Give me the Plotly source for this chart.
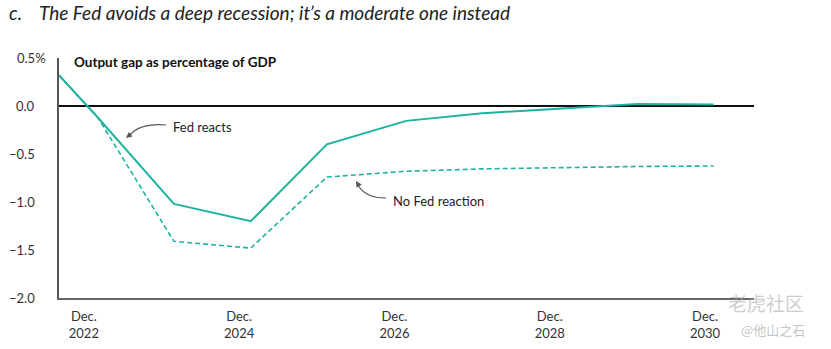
import plotly.graph_objects as go

# ---- data ----
x_years = [2022.6, 2023.1, 2024.08, 2025.07, 2026.05, 2027.07, 2028.05, 2029.05, 2030.05, 2031.03]
fed_reacts = [0.32, -0.12, -1.02, -1.20, -0.40, -0.155, -0.075, -0.025, 0.02, 0.015]
no_fed_reaction = [0.32, -0.12, -1.41, -1.48, -0.74, -0.68, -0.655, -0.64, -0.63, -0.625]

x_tickvals = [2022.92, 2024.92, 2026.92, 2028.92, 2030.92]
x_ticktext = ["Dec.<br>2022", "Dec.<br>2024", "Dec.<br>2026", "Dec.<br>2028", "Dec.<br>2030"]
y_tickvals = [0.5, 0.0, -0.5, -1.0, -1.5, -2.0]
y_ticktext = ["0.5%", "0.0", "−0.5", "−1.0", "−1.5", "−2.0"]

X_RANGE = [2022.6, 2031.55]
Y_RANGE = [-2.0, 0.5]
W, H = 831, 349
ML, MR, MT, MB = 59, 77, 58, 51

TEAL = "#1db39f"
FONT = "Lato"

def px2x(px):
    return X_RANGE[0] + (px - ML) / (W - ML - MR) * (X_RANGE[1] - X_RANGE[0])

def py2y(py):
    return Y_RANGE[1] - (py - MT) / (H - MT - MB) * (Y_RANGE[1] - Y_RANGE[0])

fig = go.Figure()
fig.add_trace(go.Scatter(x=x_years, y=no_fed_reaction, mode="lines",
                         line=dict(color=TEAL, width=1.6, dash="5px,3px"),
                         name="No Fed reaction"))
fig.add_trace(go.Scatter(x=x_years, y=fed_reacts, mode="lines",
                         line=dict(color=TEAL, width=2),
                         name="Fed reacts"))

annotations = []
# y tick labels
for v, t in zip(y_tickvals, y_ticktext):
    shift = -11 if t.endswith("%") else -22
    annotations.append(dict(x=0, xref="paper", y=v, yref="y", text=t, showarrow=False,
                            xanchor="right", yanchor="middle", xshift=shift,
                            font=dict(family=FONT, size=13, color="#333")))
# title
annotations.append(dict(x=0, xref="paper", y=1, yref="paper", text="<i>c.</i>", showarrow=False,
                        xanchor="left", yanchor="middle", xshift=-52, yshift=46,
                        font=dict(family=FONT, size=19, color="#222")))
annotations.append(dict(x=0, xref="paper", y=1, yref="paper",
                        text="<i>The Fed avoids a deep recession; it’s a moderate one instead</i>",
                        showarrow=False, xanchor="left", yanchor="middle", xshift=-22, yshift=46,
                        font=dict(family=FONT, size=19, color="#222")))
# subtitle
annotations.append(dict(x=0, xref="paper", y=1, yref="paper",
                        text="<b>Output gap as percentage of GDP</b>",
                        showarrow=False, xanchor="left", yanchor="middle", xshift=13, yshift=-4,
                        font=dict(family=FONT, size=13.5, color="#111")))
# series labels
annotations.append(dict(x=px2x(171), y=py2y(127), text="Fed reacts", showarrow=False,
                        xanchor="left", yanchor="middle",
                        font=dict(family=FONT, size=13, color="#222")))
annotations.append(dict(x=px2x(391), y=py2y(201), text="No Fed reaction", showarrow=False,
                        xanchor="left", yanchor="middle",
                        font=dict(family=FONT, size=13, color="#222")))
# arrowheads
annotations.append(dict(x=px2x(126), y=py2y(138), ax=5, ay=-4, text="", showarrow=True,
                        arrowhead=2, arrowsize=1, arrowwidth=1.2, arrowcolor="#555"))
annotations.append(dict(x=px2x(356), y=py2y(181), ax=3, ay=5, text="", showarrow=True,
                        arrowhead=2, arrowsize=1, arrowwidth=1.2, arrowcolor="#555"))
# watermark
annotations.append(dict(x=1, xref="paper", y=0, yref="paper", text="老虎社区", showarrow=False,
                        xanchor="left", yanchor="middle", xshift=-28, yshift=-4,
                        font=dict(family="Noto Sans CJK SC", size=19, color="rgba(170,170,170,0.6)")))
annotations.append(dict(x=1, xref="paper", y=0, yref="paper", text="@他山之石", showarrow=False,
                        xanchor="left", yanchor="middle", xshift=-15, yshift=-31,
                        font=dict(family="Noto Sans CJK SC", size=13, color="rgba(170,170,170,0.7)")))

shapes = [
    dict(type="path", xref="x", yref="y",
         path=f"M {px2x(166)},{py2y(125)} Q {px2x(140)},{py2y(123)} {px2x(130)},{py2y(135)}",
         line=dict(color="#555", width=1.2)),
    dict(type="path", xref="x", yref="y",
         path=f"M {px2x(386)},{py2y(198)} Q {px2x(365)},{py2y(198)} {px2x(358)},{py2y(185)}",
         line=dict(color="#555", width=1.2)),
]

fig.update_layout(
    width=W, height=H,
    margin=dict(l=ML, r=MR, t=MT, b=MB),
    plot_bgcolor="white", paper_bgcolor="white",
    showlegend=False,
    annotations=annotations,
    shapes=shapes,
    xaxis=dict(range=X_RANGE, tickvals=x_tickvals, ticktext=x_ticktext,
               showgrid=False, zeroline=False, showline=True, linecolor="#666", linewidth=1.5,
               ticks="", ticklabelstandoff=6, automargin=False,
               tickfont=dict(family=FONT, size=13, color="#333")),
    yaxis=dict(range=Y_RANGE, showticklabels=False, showgrid=False, automargin=False,
               zeroline=True, zerolinecolor="#111", zerolinewidth=2,
               showline=True, linecolor="#555", linewidth=1.5, ticks=""),
)

fig.write_html("out.html")
